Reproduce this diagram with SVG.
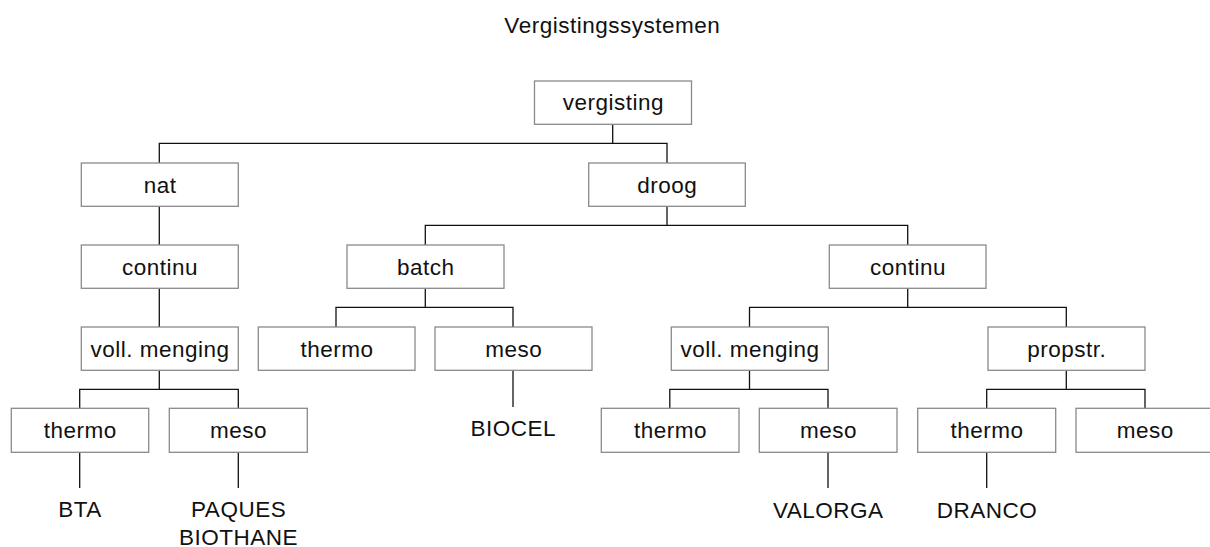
<svg xmlns="http://www.w3.org/2000/svg" width="1210" height="547" viewBox="0 0 1210 547">
<style>
.box{fill:#fff;stroke:#8a8a8a;stroke-width:1.3}
.t{font-family:"Liberation Sans",Arial,sans-serif;font-size:22.5px;letter-spacing:0.5px;fill:#111;text-anchor:middle}
.c{stroke:#111;stroke-width:1.3;fill:none}
</style>
<rect width="1210" height="547" fill="#fff"/>
<text class="t" x="612.3" y="33">Vergistingssystemen</text>
<g id="connectors">
<path class="c" d="M612.7,124V143.3M159.3,163V143.3H667V163"/>
<path class="c" d="M159.3,206V245"/>
<path class="c" d="M667,206V225.3M425.3,245V225.3H907.7V245"/>
<path class="c" d="M159.3,288V327"/>
<path class="c" d="M425.3,288V307.3M336,327V307.3H513V327"/>
<path class="c" d="M907.7,288V307.3M749.5,327V307.3H1066.3V327"/>
<path class="c" d="M159.3,370V389.3M79.7,408V389.3H238.3V408"/>
<path class="c" d="M749.5,370V389.3M669.8,408V389.3H828V408"/>
<path class="c" d="M1066.3,370V389.3M986.7,408V389.3H1145V408"/>
<path class="c" d="M513,370V407"/>
<path class="c" d="M79.7,452V488M238.3,452V488M828,452V488M986.7,452V488"/>
</g>
<g id="n-vergisting"><rect class="box" x="534.5" y="81" width="157" height="43.3"/><text class="t" x="613.3" y="110">vergisting</text></g>
<g id="n-nat"><rect class="box" x="81.3" y="163" width="157" height="43.3"/><text class="t" x="160.1" y="192.7">nat</text></g>
<g id="n-droog"><rect class="box" x="588.7" y="163" width="156.6" height="43.3"/><text class="t" x="667.3" y="192.7">droog</text></g>
<g id="n-continu-nat"><rect class="box" x="81.3" y="245" width="157" height="43.3"/><text class="t" x="160.1" y="274.5">continu</text></g>
<g id="n-batch"><rect class="box" x="347" y="245" width="157" height="43.3"/><text class="t" x="425.8" y="274.5">batch</text></g>
<g id="n-continu-droog"><rect class="box" x="829.3" y="245" width="156.7" height="43.3"/><text class="t" x="908" y="274.5">continu</text></g>
<g id="n-voll-nat"><rect class="box" x="81.3" y="327" width="157" height="43.3"/><text class="t" x="160.1" y="356.5">voll. menging</text></g>
<g id="n-thermo-batch"><rect class="box" x="258.3" y="327" width="156.7" height="43.3"/><text class="t" x="337" y="356.5">thermo</text></g>
<g id="n-meso-batch"><rect class="box" x="435" y="327" width="157" height="43.3"/><text class="t" x="513.8" y="356.5">meso</text></g>
<g id="n-voll-droog"><rect class="box" x="671.3" y="327" width="157" height="43.3"/><text class="t" x="750.1" y="356.5">voll. menging</text></g>
<g id="n-propstr"><rect class="box" x="988" y="327" width="157" height="43.3"/><text class="t" x="1066.8" y="356.5">propstr.</text></g>
<g id="n-thermo-1"><rect class="box" x="11.3" y="408.3" width="137.4" height="44"/><text class="t" x="80.3" y="437.8">thermo</text></g>
<g id="n-meso-1"><rect class="box" x="169.3" y="408.3" width="138" height="44"/><text class="t" x="238.6" y="437.8">meso</text></g>
<g id="n-thermo-2"><rect class="box" x="601.3" y="408.3" width="137.7" height="44"/><text class="t" x="670.5" y="437.8">thermo</text></g>
<g id="n-meso-2"><rect class="box" x="759.3" y="408.3" width="137.7" height="44"/><text class="t" x="828.5" y="437.8">meso</text></g>
<g id="n-thermo-3"><rect class="box" x="917.7" y="408.3" width="138" height="44"/><text class="t" x="987" y="437.8">thermo</text></g>
<g id="n-meso-3"><rect class="box" x="1076" y="408.3" width="138" height="44"/><text class="t" x="1145.3" y="437.8">meso</text></g>
<g id="n-bta"><text class="t" x="80" y="517.3">BTA</text></g>
<g id="n-paques"><text class="t" x="238.6" y="517.3">PAQUES</text><text class="t" x="238.6" y="545">BIOTHANE</text></g>
<g id="n-biocel"><text class="t" x="513.3" y="436">BIOCEL</text></g>
<g id="n-valorga"><text class="t" x="828.3" y="517.7">VALORGA</text></g>
<g id="n-dranco"><text class="t" x="987" y="517.7">DRANCO</text></g>
</svg>
